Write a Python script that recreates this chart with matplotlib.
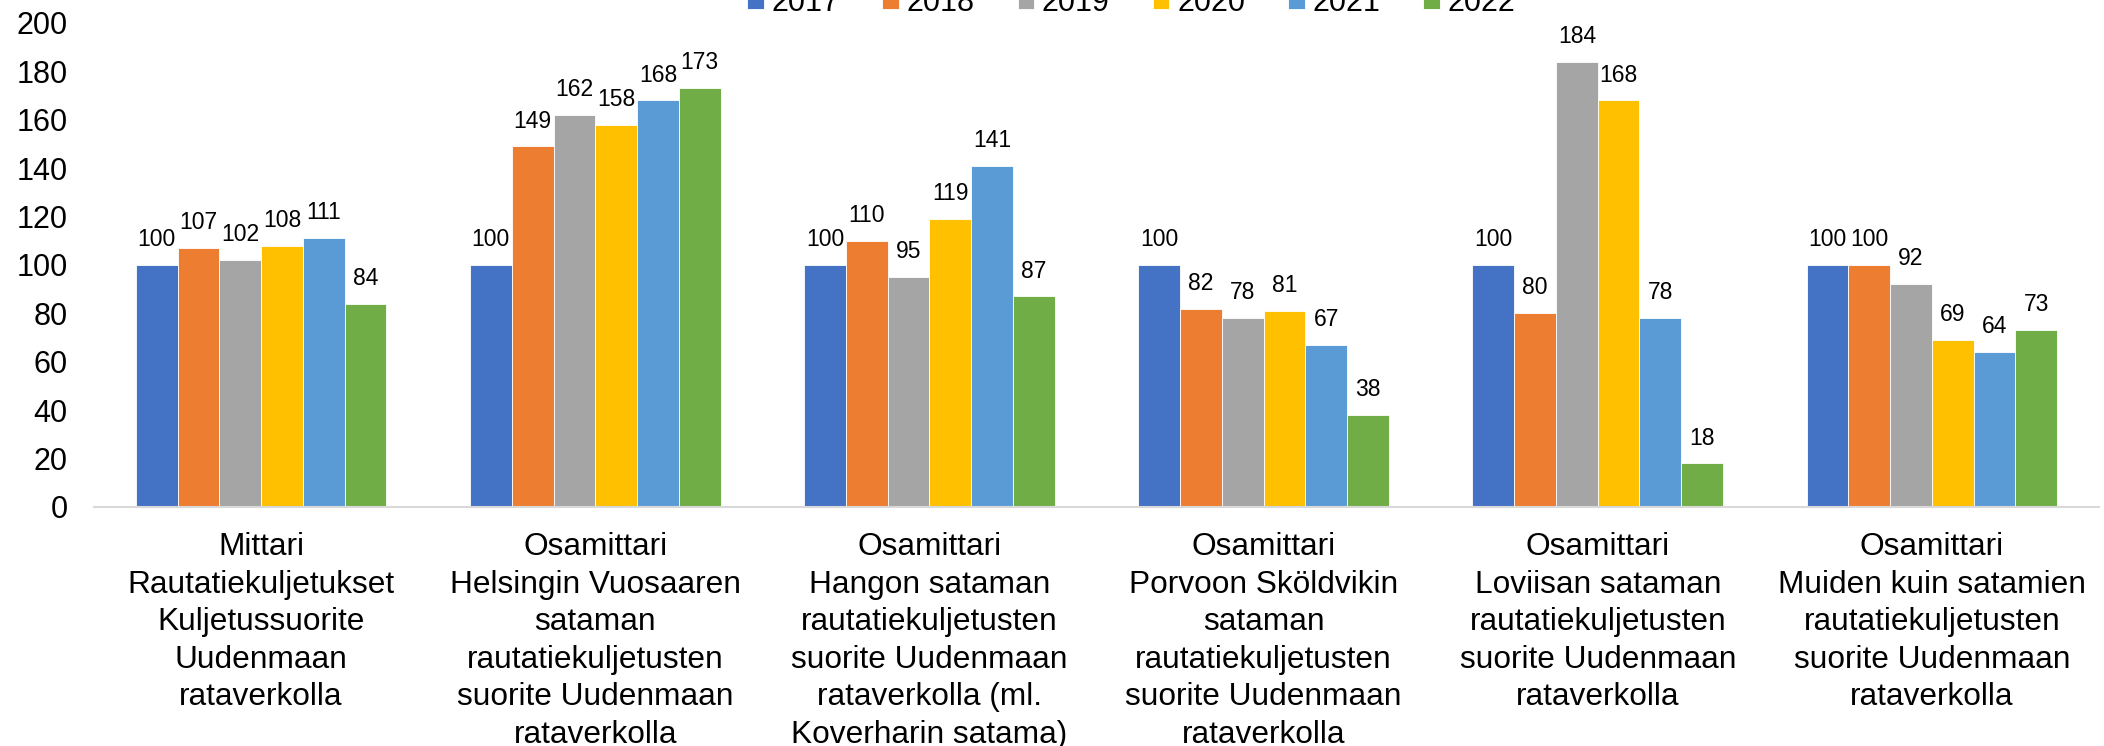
import numpy as np
import matplotlib
matplotlib.use("Agg")
import matplotlib.pyplot as plt

plt.rcParams['font.family'] = ['Liberation Sans', 'DejaVu Sans']

# categories (x axis) and yearly index values
categories = [
    "Mittari\nRautatiekuljetukset\nKuljetussuorite\nUudenmaan\nrataverkolla",
    "Osamittari\nHelsingin Vuosaaren\nsataman\nrautatiekuljetusten\nsuorite Uudenmaan\nrataverkolla",
    "Osamittari\nHangon sataman\nrautatiekuljetusten\nsuorite Uudenmaan\nrataverkolla (ml.\nKoverharin satama)",
    "Osamittari\nPorvoon Sköldvikin\nsataman\nrautatiekuljetusten\nsuorite Uudenmaan\nrataverkolla",
    "Osamittari\nLoviisan sataman\nrautatiekuljetusten\nsuorite Uudenmaan\nrataverkolla",
    "Osamittari\nMuiden kuin satamien\nrautatiekuljetusten\nsuorite Uudenmaan\nrataverkolla",
]
years = ["2017", "2018", "2019", "2020", "2021", "2022"]
v2017 = [100, 100, 100, 100, 100, 100]
v2018 = [107, 149, 110, 82, 80, 100]
v2019 = [102, 162, 95, 78, 184, 92]
v2020 = [108, 158, 119, 81, 168, 69]
v2021 = [111, 168, 141, 67, 78, 64]
v2022 = [84, 173, 87, 38, 18, 73]
series = [v2017, v2018, v2019, v2020, v2021, v2022]
colors = ["#4472C4", "#ED7D31", "#A5A5A5", "#FFC000", "#5B9BD5", "#70AD47"]

fig = plt.figure(figsize=(21.04, 7.46), dpi=100)
ax = fig.add_axes([0.0447, 0.3204, 0.9529, 0.6488])

x = np.arange(len(categories))
w = 0.125
for i, (vals, c, yr) in enumerate(zip(series, colors, years)):
    bars = ax.bar(x + (i - 2.5) * w, vals, w, color=c, label=yr,
                  edgecolor="white", linewidth=0.6)
    ax.bar_label(bars, padding=10, fontsize=16.5)

ax.set_xlim(-0.5, len(categories) - 0.5)
ax.set_ylim(0, 200)
ax.set_yticks(range(0, 201, 20))
ax.set_xticks(x)
ax.set_xticklabels(categories, fontsize=22.8, linespacing=1.33, va="top")
ax.tick_params(axis="x", length=0, pad=18)
ax.tick_params(axis="y", length=0, pad=19, labelsize=22)

for s in ["top", "right", "left"]:
    ax.spines[s].set_visible(False)
ax.spines["bottom"].set_color("#D9D9D9")
ax.spines["bottom"].set_linewidth(1.5)

fig.legend(loc="center", bbox_to_anchor=(0.5376, 0.996), ncol=6,
           frameon=False, fontsize=22, handlelength=0.55, handleheight=0.55,
           handletextpad=0.25, columnspacing=1.4, borderpad=0)

fig.savefig("out.png", dpi=100)
